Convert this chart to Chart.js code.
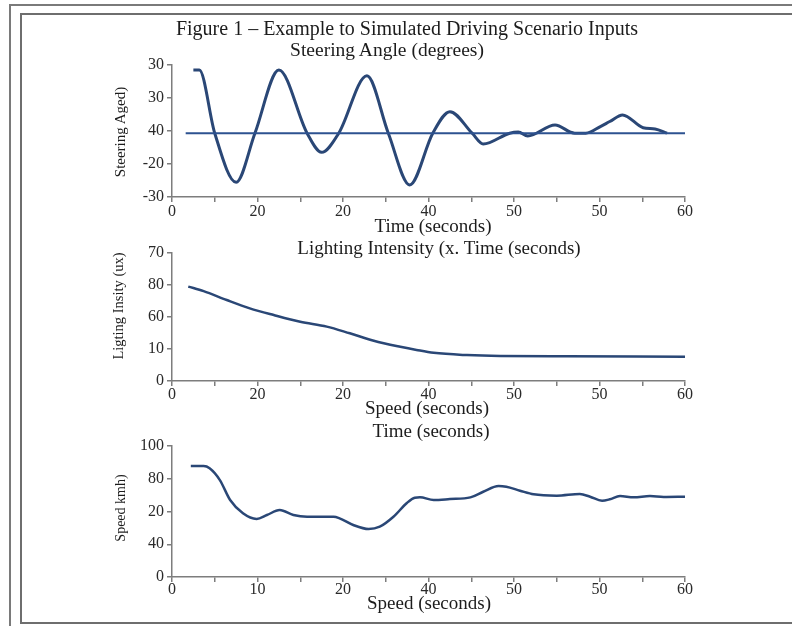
<!DOCTYPE html>
<html>
<head>
<meta charset="utf-8">
<script src="https://cdn.jsdelivr.net/npm/chart.js@4"></script>
<style>
  html, body { margin: 0; padding: 0; background: #fff; }
  #page { position: relative; width: 792px; height: 626px; overflow: hidden; font-family: "Liberation Serif", serif; color: #1c1c1c; }
  .frame-outer { position: absolute; left: 9px; top: 4px; right: -5px; bottom: -5px; border-top: 2px solid #7a7a7a; border-left: 2px solid #7a7a7a; }
  .frame-inner { position: absolute; left: 20px; top: 13px; right: -5px; height: 607px; border: 2px solid #6e6e6e; border-right: none; }
  canvas { position: absolute; left: 0; }
  .txt { position: absolute; white-space: nowrap; transform: translate(-50%, -50%); }
  .ytxt { position: absolute; white-space: nowrap; transform: translate(-50%, -50%) rotate(-90deg); }
</style>
</head>
<body>
<div id="page">
  <div class="frame-outer"></div>
  <div class="frame-inner"></div>
  <canvas id="steer" width="792" height="240" style="top:0"></canvas>
  <canvas id="light" width="792" height="180" style="top:240px"></canvas>
  <canvas id="speed" width="792" height="200" style="top:420px"></canvas>

  <div class="txt" style="left:407px; top:28px; font-size:20px;">Figure 1 – Example to Simulated Driving Scenario Inputs</div>
  <div class="txt" style="left:387px; top:50px; font-size:19.5px;">Steering Angle (degrees)</div>
  <div class="txt" style="left:433px; top:226px; font-size:19px;">Time (seconds)</div>
  <div class="ytxt" style="left:120px; top:132px; font-size:15px;">Steering Aged)</div>

  <div class="txt" style="left:439px; top:248px; font-size:19px;">Lighting Intensity (x. Time (seconds)</div>
  <div class="txt" style="left:427px; top:408px; font-size:19px;">Speed (seconds)</div>
  <div class="ytxt" style="left:118px; top:306px; font-size:14.5px;">Ligting Insity (ux)</div>

  <div class="txt" style="left:431px; top:431px; font-size:19px;">Time (seconds)</div>
  <div class="txt" style="left:429px; top:603px; font-size:19px;">Speed (seconds)</div>
  <div class="ytxt" style="left:121px; top:508px; font-size:14px;">Speed kmh)</div>
</div>
<script>
// --- data ---
const steerTime  = [2.5, 3.2, 5.0, 7.5, 9.7, 12.5, 15.8, 17.5, 19.5, 22.8, 25.3, 27.8, 30.5, 32.5, 35.1, 36.4, 39.5, 40.5, 41.6, 44.8, 47.1, 48.4, 50.1, 51.2, 52.7, 55.1, 56.5, 57.9];
const steerAngle = [27.7, 27.7, -1, -23.3, -1, 27.7, -1, -9.7, -1, 25.1, -1, -24.5, -1, 8.8, -1, -5.9, -1, -0.5, -2.3, 2.7, -1, -1, 2.0, 4.3, 7.3, 1.5, 0.9, -1];
const steerRefTime  = [1.6, 60];
const steerRefAngle = [-1, -1];

const lightTime  = [1.9, 3.7, 6.4, 9.1, 11.9, 15.0, 18.1, 20.8, 23.6, 26.7, 28.6, 30.6, 34.5, 38.4, 46.2, 60];
const lightValue = [29.5, 28.1, 25.3, 22.7, 20.6, 18.5, 17.0, 14.9, 12.6, 10.7, 9.7, 8.8, 8.1, 7.8, 7.7, 7.6];

const speedTime  = [2.2, 3.7, 4.4, 5.6, 6.8, 8.3, 9.9, 11.1, 12.6, 14.2, 15.8, 18.9, 19.6, 21.2, 23.0, 24.3, 25.9, 27.5, 28.4, 29.0, 30.6, 32.5, 34.9, 36.4, 38.2, 39.1, 40.7, 42.3, 45.0, 47.7, 48.9, 50.3, 51.2, 52.4, 54.0, 55.9, 57.5, 60];
const speedValue = [84.7, 84.7, 83.0, 74.0, 58.8, 48.6, 44.3, 47.3, 51.1, 47.3, 46.0, 46.0, 44.8, 39.7, 36.6, 38.4, 46.0, 56.7, 60.5, 60.8, 58.8, 59.5, 60.8, 65.1, 69.5, 68.9, 65.9, 63.1, 62.1, 63.4, 61.3, 58.2, 59.3, 61.8, 60.8, 61.8, 61.1, 61.3];

// tick labels as printed on the figure (one per major tick)
const steerXLabels = ['0', '20', '20', '40', '50', '50', '60'];
const steerYLabels = ['-30', '-20', '40', '30', '30'];
const lightXLabels = ['0', '20', '20', '40', '50', '50', '60'];
const lightYLabels = ['0', '10', '60', '80', '70'];
const speedXLabels = ['0', '10', '20', '40', '50', '50', '60'];
const speedYLabels = ['0', '40', '20', '80', '100'];

const LINE = '#2a4776';
const AXIS = '#7d7d7d';
const TICK_FONT = { family: 'Liberation Serif', size: 16 };

const toPoints = (xs, ys) => xs.map((x, i) => ({ x, y: ys[i] }));

function makePanel(id, o) {
  const ctx = document.getElementById(id).getContext('2d');
  return new Chart(ctx, {
    type: 'line',
    data: { datasets: o.datasets },
    options: {
      responsive: false,
      animation: false,
      layout: { padding: o.padding },
      plugins: { legend: { display: false }, tooltip: { enabled: false } },
      elements: { point: { radius: 0 } },
      scales: {
        x: {
          type: 'linear', min: 0, max: 60,
          border: { display: true, color: AXIS, width: 1.5 },
          grid: { drawOnChartArea: false, drawTicks: true, tickLength: 5, color: AXIS, lineWidth: 1.5 },
          ticks: {
            stepSize: 5, autoSkip: false, maxRotation: 0, padding: o.xTickPad,
            color: '#2a2a2a', font: TICK_FONT,
            callback: v => (v % 10 === 0 ? o.xLabels[v / 10] : ''),
          },
          afterFit: s => { s.height = o.xHeight; },
        },
        y: {
          type: 'linear', min: o.yMin, max: o.yMax,
          border: { display: true, color: AXIS, width: 1.5 },
          grid: { drawOnChartArea: false, drawTicks: true, tickLength: 5, color: AXIS, lineWidth: 1.5 },
          ticks: {
            stepSize: (o.yMax - o.yMin) / 4, padding: 3,
            color: '#2a2a2a', font: TICK_FONT,
            callback: v => o.yLabels[Math.round((v - o.yMin) / ((o.yMax - o.yMin) / 4))],
          },
          afterFit: s => { s.width = o.yWidth; },
        },
      },
    },
  });
}

makePanel('steer', {
  datasets: [
    { data: toPoints(steerRefTime, steerRefAngle), borderColor: '#2d5290', borderWidth: 2 },
    { data: toPoints(steerTime, steerAngle), borderColor: LINE, borderWidth: 3, cubicInterpolationMode: 'monotone' },
  ],
  padding: { left: 111, right: 107, top: 65, bottom: 5 },
  yMin: -30, yMax: 30, yLabels: steerYLabels, xLabels: steerXLabels,
  yWidth: 61, xHeight: 38, xTickPad: 0,
});

makePanel('light', {
  datasets: [
    { data: toPoints(lightTime, lightValue), borderColor: LINE, borderWidth: 2.5, cubicInterpolationMode: 'monotone' },
  ],
  padding: { left: 109, right: 107, top: 13, bottom: 3 },
  yMin: 0, yMax: 40, yLabels: lightYLabels, xLabels: lightXLabels,
  yWidth: 63, xHeight: 36, xTickPad: -1,
});

makePanel('speed', {
  datasets: [
    { data: toPoints(speedTime, speedValue), borderColor: LINE, borderWidth: 2.5, cubicInterpolationMode: 'monotone' },
  ],
  padding: { left: 113, right: 107, top: 26, bottom: 8 },
  yMin: 0, yMax: 100, yLabels: speedYLabels, xLabels: speedXLabels,
  yWidth: 59, xHeight: 35, xTickPad: -2,
});
</script>
</body>
</html>
